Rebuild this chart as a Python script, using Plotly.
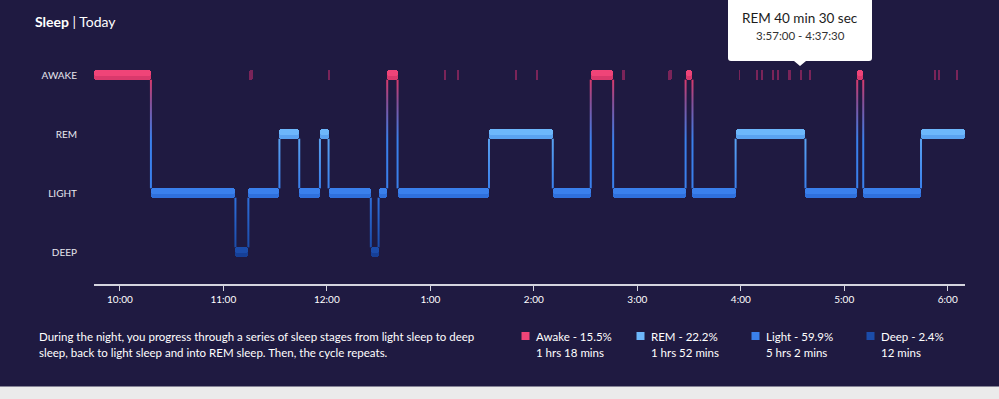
import plotly.graph_objects as go
import pandas as pd

# ---------------- data ----------------
stage_levels = ["DEEP", "LIGHT", "REM", "AWAKE"]          # y order bottom -> top
stage_colors = {"AWAKE": "#ef4478", "REM": "#6db7fb", "LIGHT": "#3a80ec", "DEEP": "#1b4caa"}
stage_shade = {"AWAKE": "#d9396c", "REM": "#5aa2f0", "LIGHT": "#2f70dc", "DEEP": "#163f96"}
short_wake_color = "#7a2459"

seg_start = [
    "2019-03-10 21:45:00", "2019-03-10 22:18:00", "2019-03-10 23:07:00", "2019-03-10 23:14:30",
    "2019-03-10 23:32:30", "2019-03-10 23:44:00", "2019-03-10 23:56:00", "2019-03-11 00:01:00",
    "2019-03-11 00:25:30", "2019-03-11 00:30:00", "2019-03-11 00:35:00", "2019-03-11 00:41:00",
    "2019-03-11 01:34:00", "2019-03-11 02:11:00", "2019-03-11 02:33:00", "2019-03-11 02:46:00",
    "2019-03-11 03:28:00", "2019-03-11 03:32:00", "2019-03-11 03:57:00", "2019-03-11 04:37:30",
    "2019-03-11 05:07:30", "2019-03-11 05:11:00", "2019-03-11 05:44:30",
]
seg_stage = [
    "AWAKE", "LIGHT", "DEEP", "LIGHT", "REM", "LIGHT", "REM", "LIGHT", "DEEP", "LIGHT",
    "AWAKE", "LIGHT", "REM", "LIGHT", "AWAKE", "LIGHT", "AWAKE", "LIGHT", "REM", "LIGHT",
    "AWAKE", "LIGHT", "REM",
]
sleep_end = "2019-03-11 06:10:00"

# brief awakenings (shown only on the AWAKE row)
wake_start = [
    "2019-03-10 23:14:45", "2019-03-11 00:01:10", "2019-03-11 01:08:25", "2019-03-11 01:15:50",
    "2019-03-11 01:49:25", "2019-03-11 02:01:45", "2019-03-11 02:50:55", "2019-03-11 03:18:00",
    "2019-03-11 03:59:00", "2019-03-11 04:09:10", "2019-03-11 04:12:15", "2019-03-11 04:18:25",
    "2019-03-11 04:20:45", "2019-03-11 04:27:30", "2019-03-11 04:34:50", "2019-03-11 04:39:20",
    "2019-03-11 05:52:25", "2019-03-11 05:54:50", "2019-03-11 06:05:00",
]
wake_minutes = [2.5, 0.5, 0.5, 0.5, 0.5, 0.5, 2.0, 2.0, 0.5, 0.5, 0.5, 0.5,
                1.5, 1.5, 0.5, 1.5, 0.5, 0.5, 0.5]

hour_ticks = ["2019-03-10 22:00", "2019-03-10 23:00", "2019-03-11 00:00", "2019-03-11 01:00",
              "2019-03-11 02:00", "2019-03-11 03:00", "2019-03-11 04:00", "2019-03-11 05:00",
              "2019-03-11 06:00"]
hour_labels = ["10:00", "11:00", "12:00", "1:00", "2:00", "3:00", "4:00", "5:00", "6:00"]

legend_names = ["Awake", "REM", "Light", "Deep"]
legend_pct = ["15.5%", "22.2%", "59.9%", "2.4%"]
legend_dur = ["1 hrs 18 mins", "1 hrs 52 mins", "5 hrs 2 mins", "12 mins"]
legend_keys = ["AWAKE", "REM", "LIGHT", "DEEP"]

tooltip_title = "REM 40 min 30 sec"
tooltip_range = "3:57:00 - 4:37:30"
description = ["During the night, you progress through a series of sleep stages from light sleep to deep",
               "sleep, back to light sleep and into REM sleep. Then, the cycle repeats."]

# ---------------- style / layout constants ----------------
W, H = 999, 399
ML, MR, MT, MB = 94, 34, 55, 115
BG = "#1f1a41"
FONT = "Lato"
BAND = 0.158           # band thickness in y units (~9 px)
TOP = 0.09             # brighter upper part of each band
Y_RANGE = [-0.542, 3.339]

PW = W - ML - MR
PH = H - MT - MB


def px2x(px):
    return (px - ML) / PW


def px2y(py):
    return (H - MB - py) / PH


level = {s: i for i, s in enumerate(stage_levels)}
starts = pd.to_datetime(seg_start)
ends = list(starts[1:]) + [pd.Timestamp(sleep_end)]

fig = go.Figure()

# connectors between successive stages (thin gradient strips)
sec_per_px = (pd.Timestamp(sleep_end) - starts[0]).total_seconds() / PW
half_w = pd.Timedelta(seconds=1.0 * sec_per_px)
for i in range(1, len(starts)):
    a, b = seg_stage[i - 1], seg_stage[i]
    lo, hi = sorted([a, b], key=lambda s: level[s])
    y0 = level[lo] + BAND / 2
    y1 = level[hi] - BAND / 2
    t = starts[i]
    if hi == "AWAKE":
        cs = [[0, stage_colors[lo]], [0.45, stage_colors[lo]], [0.8, "#8a4f95"], [1, stage_shade[hi]]]
    else:
        cs = [[0, stage_colors[lo]], [1, stage_shade[hi]]]
    fig.add_trace(go.Scatter(
        x=[t - half_w, t + half_w, t + half_w, t - half_w, t - half_w],
        y=[y0, y0, y1, y1, y0],
        mode="lines", line=dict(width=0), fill="toself",
        fillgradient=dict(type="vertical", colorscale=cs),
        hoverinfo="skip", showlegend=False))

# stage bands: full band in the shaded colour, brighter upper part on top
for st in stage_levels:
    ys, bases, sizes = [], [], []
    for s, e, stg in zip(starts, ends, seg_stage):
        if stg != st:
            continue
        ys.append(level[st])
        bases.append(s)
        sizes.append((e - s).total_seconds() * 1000)
    fig.add_trace(go.Bar(
        orientation="h", y=ys, base=bases, x=sizes, width=BAND,
        marker=dict(color=stage_shade[st], cornerradius=3, line=dict(width=0)),
        name=st, showlegend=False, hoverinfo="skip"))
    fig.add_trace(go.Bar(
        orientation="h", y=ys, base=bases, x=sizes, width=TOP, offset=BAND / 2 - TOP,
        marker=dict(color=stage_colors[st], cornerradius=3, line=dict(width=0)),
        name=st, showlegend=False, hoverinfo="skip"))

# brief awakenings
ys, bases, sizes = [], [], []
for s, m in zip(pd.to_datetime(wake_start), wake_minutes):
    ys.append(level["AWAKE"])
    bases.append(s)
    sizes.append(m * 60000)
fig.add_trace(go.Bar(
    orientation="h", y=ys, base=bases, x=sizes, width=BAND,
    marker=dict(color=short_wake_color, cornerradius=2, line=dict(width=0)),
    showlegend=False, hoverinfo="skip"))

annotations = []
shapes = []

# title
annotations.append(dict(
    xref="paper", yref="paper", x=px2x(33), y=px2y(21), xanchor="left", yanchor="middle",
    text="<b>Sleep</b> | Today", showarrow=False,
    font=dict(family=FONT, size=14, color="#ffffff")))

# tooltip box
bx0, bx1, by0, by1, r = 728, 872, -6, 61, 3
path = (f"M {px2x(bx0)},{px2y(by0)} L {px2x(bx1)},{px2y(by0)} "
        f"L {px2x(bx1)},{px2y(by1 - r)} Q {px2x(bx1)},{px2y(by1)} {px2x(bx1 - r)},{px2y(by1)} "
        f"L {px2x(806)},{px2y(by1)} L {px2x(800)},{px2y(66)} L {px2x(794)},{px2y(by1)} "
        f"L {px2x(bx0 + r)},{px2y(by1)} Q {px2x(bx0)},{px2y(by1)} {px2x(bx0)},{px2y(by1 - r)} Z")
shapes.append(dict(type="path", xref="paper", yref="paper", path=path,
                   fillcolor="#ffffff", line=dict(width=0), layer="above"))
annotations.append(dict(
    xref="paper", yref="paper", x=px2x(800), y=px2y(18), xanchor="center", yanchor="middle",
    text=tooltip_title, showarrow=False, font=dict(family=FONT, size=13.5, color="#1c1c1c")))
annotations.append(dict(
    xref="paper", yref="paper", x=px2x(800), y=px2y(35.5), xanchor="center", yanchor="middle",
    text=tooltip_range, showarrow=False, font=dict(family=FONT, size=11.5, color="#333333")))

# description text
for i, line in enumerate(description):
    annotations.append(dict(
        xref="paper", yref="paper", x=px2x(37), y=px2y(336 + 16.5 * i), xanchor="left", yanchor="middle",
        text=line, showarrow=False, font=dict(family=FONT, size=11.5, color="#ffffff")))

# legend summary
for i, (nm, pc, du, key) in enumerate(zip(legend_names, legend_pct, legend_dur, legend_keys)):
    sx = 521.5 + 115 * i
    shapes.append(dict(type="rect", xref="paper", yref="paper",
                       x0=px2x(sx), x1=px2x(sx + 8), y0=px2y(332), y1=px2y(340),
                       fillcolor=stage_colors[key], line=dict(width=0), layer="above"))
    annotations.append(dict(
        xref="paper", yref="paper", x=px2x(sx + 12.5), y=px2y(336), xanchor="left", yanchor="middle",
        text=f"{nm} - {pc}", showarrow=False, font=dict(family=FONT, size=11.5, color="#ffffff")))
    annotations.append(dict(
        xref="paper", yref="paper", x=px2x(sx + 12.5), y=px2y(352.5), xanchor="left", yanchor="middle",
        text=du, showarrow=False, font=dict(family=FONT, size=11.5, color="#ffffff")))

# light strip at the bottom of the card
shapes.append(dict(type="rect", xref="paper", yref="paper",
                   x0=px2x(-10), x1=px2x(W + 10), y0=px2y(H + 10), y1=px2y(386.5),
                   fillcolor="#ebebeb", line=dict(width=0), layer="below"))

fig.update_layout(
    width=W, height=H,
    margin=dict(l=ML, r=MR, t=MT, b=MB),
    paper_bgcolor=BG, plot_bgcolor=BG,
    barmode="overlay",
    bargap=0,
    showlegend=False,
    font=dict(family=FONT, color="#ffffff"),
    annotations=annotations,
    shapes=shapes,
    xaxis=dict(
        type="date", range=[starts[0], pd.Timestamp(sleep_end)],
        tickvals=pd.to_datetime(hour_ticks), ticktext=hour_labels,
        showgrid=False, zeroline=False,
        showline=True, linecolor="#d4d4de", linewidth=2,
        ticks="outside", ticklen=5, tickwidth=1, tickcolor="#d4d4de",
        tickfont=dict(family=FONT, size=10, color="#ffffff"),
        fixedrange=True,
    ),
    yaxis=dict(
        range=Y_RANGE, tickvals=list(range(len(stage_levels))), ticktext=stage_levels,
        showgrid=False, zeroline=False, showline=False, ticks="",
        ticklabelstandoff=16,
        tickfont=dict(family=FONT, size=10, color="#e6e6ee"),
        fixedrange=True,
    ),
)

fig.write_html("out.html", config={"displayModeBar": False},
               post_script="document.body.style.margin='0';document.body.style.overflow='hidden';")
